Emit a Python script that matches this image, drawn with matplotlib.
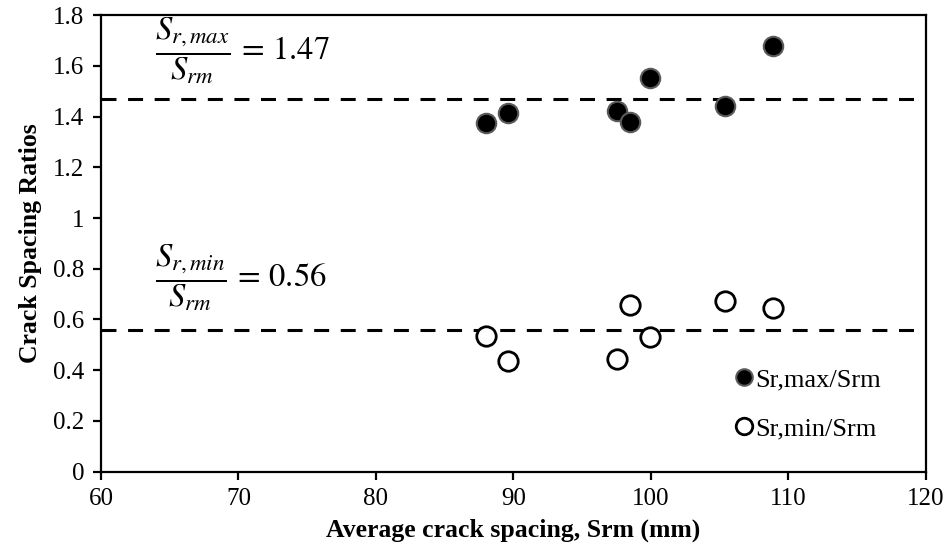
import numpy as np
import matplotlib
matplotlib.use("Agg")
import matplotlib.pyplot as plt
from matplotlib.ticker import FuncFormatter

plt.rcParams['font.family'] = ['Liberation Serif', 'DejaVu Serif']
plt.rcParams['mathtext.fontset'] = 'stix'

# average crack spacing Srm (mm)
srm = [88.0, 89.6, 97.5, 98.5, 99.9, 105.4, 108.9]
# ratios
ratio_max = [1.376, 1.413, 1.423, 1.380, 1.553, 1.441, 1.679]
ratio_min = [0.535, 0.438, 0.443, 0.658, 0.532, 0.673, 0.645]
mean_max = 1.47
mean_min = 0.56

fig = plt.figure(figsize=(9.5, 5.6), dpi=100)
ax = fig.add_axes([0.1063, 0.1577, 0.8684, 0.8153])

# mean lines
for m in [mean_max, mean_min]:
    ax.axhline(m, color='black', lw=2.2, dashes=(4.9, 3.8), zorder=1)

ax.plot(srm, ratio_max, 'o', ms=14, mfc='black', mec='#5a5a5a', mew=1.5,
        ls='none', label='Sr,max/Srm', zorder=3)
ax.plot(srm, ratio_min, 'o', ms=14, mfc='white', mec='black', mew=2,
        ls='none', label='Sr,min/Srm', zorder=3)

ax.text(63.9, 1.66, r'$\dfrac{S_{r,max}}{S_{rm}}\,=\,1.47$', fontsize=23.5,
        va='center', ha='left')
ax.text(63.9, 0.765, r'$\dfrac{S_{r,min}}{S_{rm}}\,=\,0.56$', fontsize=23.5,
        va='center', ha='left')

ax.set_xlim(60, 120)
ax.set_ylim(0, 1.8)
ax.set_xticks(np.arange(60, 121, 10))
ax.set_yticks(np.arange(0, 1.81, 0.2))
ax.yaxis.set_major_formatter(FuncFormatter(lambda v, p: '{:g}'.format(round(v, 1))))

for s in ax.spines.values():
    s.set_linewidth(1.6)
ax.tick_params(direction='out', length=6, width=1.6, labelsize=18, pad=6)

ax.set_xlabel('Average crack spacing, Srm (mm)', fontsize=18.5, fontweight='bold', labelpad=6)
ax.set_ylabel('Crack Spacing Ratios', fontsize=18.5, fontweight='bold', labelpad=8)

leg = ax.legend(loc='upper left', bbox_to_anchor=(0.771, 0.228), frameon=False,
                fontsize=19, handlelength=0.5, handletextpad=0.2, labelspacing=0.97,
                markerscale=0.85, borderaxespad=0, borderpad=0)

fig.savefig('out.png', dpi=100)
